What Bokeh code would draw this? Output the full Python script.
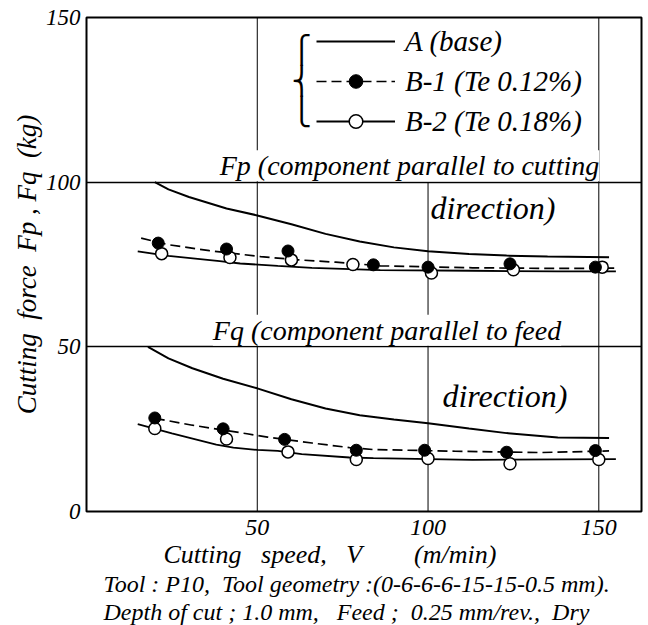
from bokeh.plotting import figure
from bokeh.models import Range1d, FixedTicker, Label, Legend, LegendItem, ColumnDataSource, Title
from bokeh.embed import file_html
from bokeh.resources import INLINE

FONT = "Liberation Sans Narrow"
NB = "\u00a0"

# ---------------- data ----------------
# Fp : component parallel to cutting direction
A_fp_x = [20, 24, 30, 41, 50, 60, 70, 80, 90, 100, 112, 123, 135, 153]
A_fp_y = [100, 97.8, 95.5, 92.0, 89.9, 87.2, 84.3, 82.0, 80.2, 79.0, 78.2, 77.7, 77.4, 77.2]
B1_fp_line_x = [16, 24, 36, 51, 62, 73, 86, 100, 113, 138, 155]
B1_fp_line_y = [83.0, 81.0, 79.2, 77.4, 76.4, 75.7, 74.6, 74.3, 74.0, 73.8, 73.9]
B2_fp_line_x = [15, 24, 39, 45, 56, 66, 75, 86, 113, 138, 155]
B2_fp_line_y = [79.0, 77.6, 76.0, 75.3, 74.6, 74.0, 73.7, 73.3, 73.1, 72.9, 72.9]
B1_fp_x = [21, 41, 59, 84, 100, 124, 149]
B1_fp_y = [81.5, 79.7, 79.1, 74.9, 74.2, 75.2, 74.2]
B2_fp_x = [22, 42, 60, 78, 101, 125, 151]
B2_fp_y = [78.3, 77.1, 76.4, 75.0, 72.4, 73.4, 74.2]

# Fq : component parallel to feed direction
A_fq_x = [18, 24, 31, 40, 50, 60, 70, 80, 90, 100, 112, 123, 138, 153]
A_fq_y = [50, 46.5, 43.5, 40.3, 37.4, 34.1, 31.3, 29.2, 27.9, 26.8, 25.2, 23.8, 22.5, 22.3]
B1_fq_line_x = [20, 31, 47, 53, 66, 77, 84, 108, 133, 153]
B1_fq_line_y = [28.3, 26.2, 23.6, 22.6, 20.8, 19.4, 18.8, 18.3, 17.9, 18.4]
B2_fq_line_x = [15, 25, 38, 43, 50, 56, 63, 77, 84, 113, 155]
B2_fq_line_y = [26.5, 23.7, 20.3, 19.4, 18.7, 18.4, 17.4, 16.4, 16.2, 15.7, 15.9]
B1_fq_x = [20, 40, 58, 79, 99, 123, 149]
B1_fq_y = [28.4, 25.1, 21.9, 18.6, 18.6, 18.0, 18.5]
B2_fq_x = [20, 41, 59, 79, 100, 124, 150]
B2_fq_y = [25.2, 22.0, 18.1, 15.8, 16.1, 14.5, 15.8]

x_ticks = [50, 100, 150]
y_ticks = [0, 50, 100, 150]
h_lines = [50, 100]
v_lines = [50, 100, 150]
v_line_tops = [150, 100, 150]

series_labels = ["A (base)", "B-1 (Te 0.12%)", "B-2 (Te 0.18%)"]

# ---------------- figure ----------------
p = figure(width=648, height=625, output_backend="svg", toolbar_location=None,
           x_range=Range1d(0, 162.5), y_range=Range1d(0, 150),
           min_border_left=86, min_border_right=7, min_border_top=17,
           min_border_bottom=114)
p.background_fill_color = "white"
p.border_fill_color = "white"
p.outline_line_color = "black"
p.outline_line_width = 2

p.xgrid.visible = False
p.ygrid.ticker = FixedTicker(ticks=h_lines)
p.ygrid.grid_line_color = "black"
p.ygrid.grid_line_width = 1.6

vsrc = ColumnDataSource(dict(x=v_lines, top=v_line_tops, bottom=[0] * len(v_lines)))
p.segment(x0="x", y0="bottom", x1="x", y1="top", source=vsrc,
          line_color="black", line_width=1)

for ax in (p.xaxis[0], p.yaxis[0]):
    ax.axis_line_color = None
    ax.major_tick_line_color = None
    ax.minor_tick_line_color = None
    ax.major_label_text_font = FONT
    ax.major_label_text_font_style = "italic"
    ax.major_label_text_color = "black"

p.xaxis.ticker = FixedTicker(ticks=x_ticks)
p.xaxis.major_label_standoff = 2
p.xaxis.major_label_text_font_size = "24px"
p.yaxis.ticker = FixedTicker(ticks=y_ticks)
p.yaxis.major_label_standoff = 0
p.yaxis.major_label_text_font_size = "23px"
p.yaxis.axis_label = "Cutting" + NB + " force" + NB + " Fp , Fq" + NB + " (kg)"
p.yaxis.axis_label_text_font = FONT
p.yaxis.axis_label_text_font_style = "italic"
p.yaxis.axis_label_text_font_size = "27px"
p.yaxis.axis_label_text_color = "black"
p.yaxis.axis_label_standoff = 1

# ---------------- series ----------------
dash = "10 5"
rA = p.line(A_fp_x, A_fp_y, line_color="black", line_width=2)
p.line(A_fq_x, A_fq_y, line_color="black", line_width=2)
rB1l = p.line(B1_fp_line_x, B1_fp_line_y, line_color="black", line_width=1.7, line_dash=dash)
p.line(B1_fq_line_x, B1_fq_line_y, line_color="black", line_width=1.7, line_dash=dash)
rB2l = p.line(B2_fp_line_x, B2_fp_line_y, line_color="black", line_width=1.8)
p.line(B2_fq_line_x, B2_fq_line_y, line_color="black", line_width=1.8)

rB2p = p.scatter(B2_fp_x, B2_fp_y, size=12, marker="circle", fill_color="white",
                 line_color="black", line_width=1.5)
p.scatter(B2_fq_x, B2_fq_y, size=12, marker="circle", fill_color="white",
          line_color="black", line_width=1.5)
rB1p = p.scatter(B1_fp_x, B1_fp_y, size=12, marker="circle", fill_color="black",
                 line_color="black", line_width=1)
p.scatter(B1_fq_x, B1_fq_y, size=12, marker="circle", fill_color="black",
          line_color="black", line_width=1)

legend = Legend(items=[LegendItem(label=series_labels[0], renderers=[rA]),
                       LegendItem(label=series_labels[1], renderers=[rB1l, rB1p]),
                       LegendItem(label=series_labels[2], renderers=[rB2l, rB2p])],
                location=(230, 373), border_line_color=None, background_fill_alpha=0,
                padding=0, margin=0, spacing=6, glyph_width=79, glyph_height=34,
                label_height=34, label_standoff=10, label_text_font=FONT,
                label_text_font_style="italic", label_text_font_size="29px",
                label_text_color="black")
p.add_layout(legend)

# brace in front of the legend
p.add_layout(Label(x=63.0, y=131, text="\u23a7\n\u23a8\n\u23a9", text_font="DejaVu Sans",
                   text_font_size="27px", text_line_height=1.0, text_baseline="middle",
                   text_align="center", text_color="black"))

def lab(x, y, text, size="28px", baseline="alphabetic", bg=None, y_offset=0):
    p.add_layout(Label(x=x, y=y, text=text, text_font=FONT, text_font_style="italic",
                       text_font_size=size, text_color="black", text_baseline=baseline,
                       y_offset=y_offset, background_fill_color=bg))

lab(39.0, 100, "Fp (component parallel to cutting", baseline="bottom", bg="white", y_offset=1)
lab(100.7, 92.3, "direction)", size="32px")
lab(37.0, 50, "Fq (component parallel to feed", baseline="bottom", bg="white", y_offset=1)
lab(104.2, 35.2, "direction)", size="32px")

# texts under the x axis
def below(text, size, offset):
    p.add_layout(Title(text=text, align="left", offset=offset, standoff=0,
                       text_font=FONT, text_font_style="italic", text_font_size=size,
                       text_color="black"), "below")

below("Cutting" + NB * 2 + " speed," + NB * 2 + " V" + NB * 7 + " (m/min)", "26px", 77)
below("Tool : P10," + NB + " Tool geometry :(0-6-6-6-15-15-0.5 mm).", "24px", 17)
below("Depth of cut ; 1.0 mm," + NB * 2 + " Feed ;" + NB + " 0.25 mm/rev.," + NB + " Dry", "24px", 17)

open("out.html", "w").write(file_html(p, INLINE))
